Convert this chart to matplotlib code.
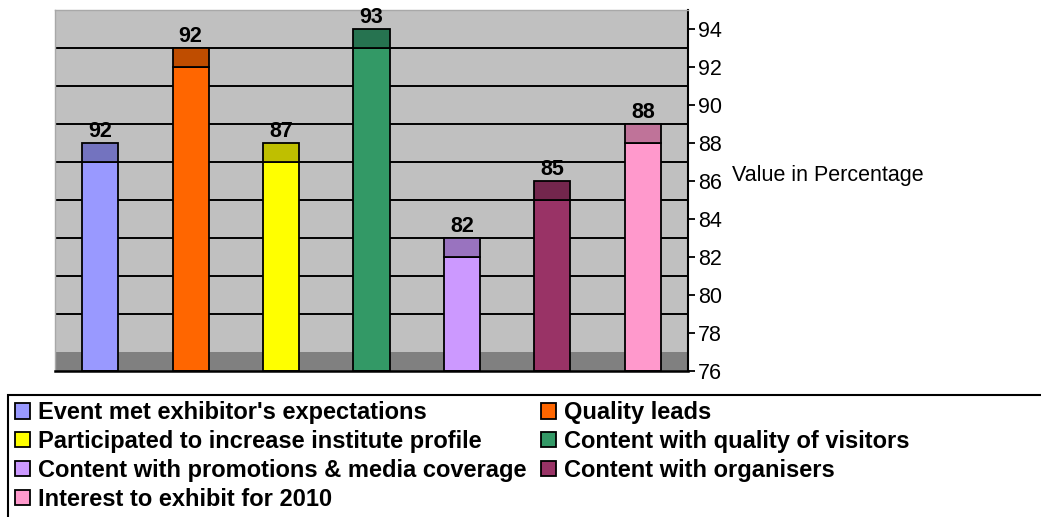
import matplotlib
matplotlib.use("Agg")
import matplotlib.pyplot as plt
import numpy as np
from matplotlib.patches import Patch, Rectangle

plt.rcParams.update({"font.family": "Liberation Sans"})

categories = ["Event met exhibitor's expectations", "Quality leads",
              "Participated to increase institute profile", "Content with quality of visitors",
              "Content with promotions & media coverage", "Content with organisers",
              "Interest to exhibit for 2010"]
heights = [87, 92, 87, 93, 82, 85, 88]          # drawn bar heights (front face)
labels = ["92", "92", "87", "93", "82", "85", "88"]  # printed data labels
front_colors = ["#9999FF", "#FF6600", "#FFFF00", "#339966", "#CC99FF", "#993366", "#FF99CC"]
top_colors = ["#7373BF", "#BF4D00", "#BFBF00", "#267350", "#9973BF", "#73264D", "#BF7399"]
yticks = list(range(76, 95, 2))

W, H = 1041, 517
fig = plt.figure(figsize=(W / 100, H / 100), dpi=100)
ax = fig.add_axes([55 / W, 1 - 371 / H, 633 / W, 361 / H])
ax.set_facecolor("#C0C0C0")
ax.set_xlim(-0.5, len(heights) - 0.5)
ax.set_ylim(76, 95)

# back-wall gridlines sit one unit up (3-D depth offset)
for g in np.arange(79, 95, 2):
    ax.axhline(g, color="black", lw=1.4, zorder=0.6)
ax.axhspan(76, 77, color="#808080", lw=0, zorder=0.8)

x = np.arange(len(heights))
base = 76
ax.bar(x, np.array(heights) - base, bottom=base, width=0.4, color=front_colors,
       edgecolor="black", linewidth=1.3, zorder=2)
ax.bar(x, 1, bottom=heights, width=0.4, color=top_colors,
       edgecolor="black", linewidth=1.3, zorder=2)
for xi, h, lab in zip(x, heights, labels):
    ax.annotate(lab, (xi, h + 1), xytext=(0, 1), textcoords="offset points",
                ha="center", va="bottom", fontsize=15.5, fontweight="bold")

ax.set_xticks([])
ax.yaxis.tick_right()
ax.set_yticks(yticks)
ax.tick_params(axis="y", direction="out", length=5, width=1.3, labelsize=15.5, pad=2)
for s in ["top", "left"]:
    ax.spines[s].set_color("#A8A8A8")
    ax.spines[s].set_linewidth(1)
ax.spines["right"].set_linewidth(1.5)
ax.spines["bottom"].set_linewidth(1.8)

ax.set_ylabel("Value in Percentage", rotation=0, fontsize=15.5, ha="left", va="center")
ax.yaxis.set_label_position("right")
ax.yaxis.set_label_coords((732 - 55) / 633, (371 - 165) / 361)

# legend box (runs off the right and bottom edges like the original)
fig.patches.append(Rectangle((8 / W, -0.2), 2, (H - 395) / H + 0.2, transform=fig.transFigure,
                             fill=False, ec="black", lw=1.5))
handles = [Patch(facecolor=c, edgecolor="black", linewidth=1.3) for c in front_colors]
order = [0, 2, 4, 6, 1, 3, 5]
fig.legend([handles[i] for i in order], [categories[i] for i in order],
           loc="upper left", bbox_to_anchor=(15 / W, 1 - 401 / H), ncol=2,
           frameon=False, borderpad=0, borderaxespad=0, handlelength=0.64,
           handleheight=0.64, handletextpad=0.34, columnspacing=0.6, labelspacing=0.25,
           prop={"size": 17, "weight": "bold"})

fig.savefig("out.png", dpi=100)
